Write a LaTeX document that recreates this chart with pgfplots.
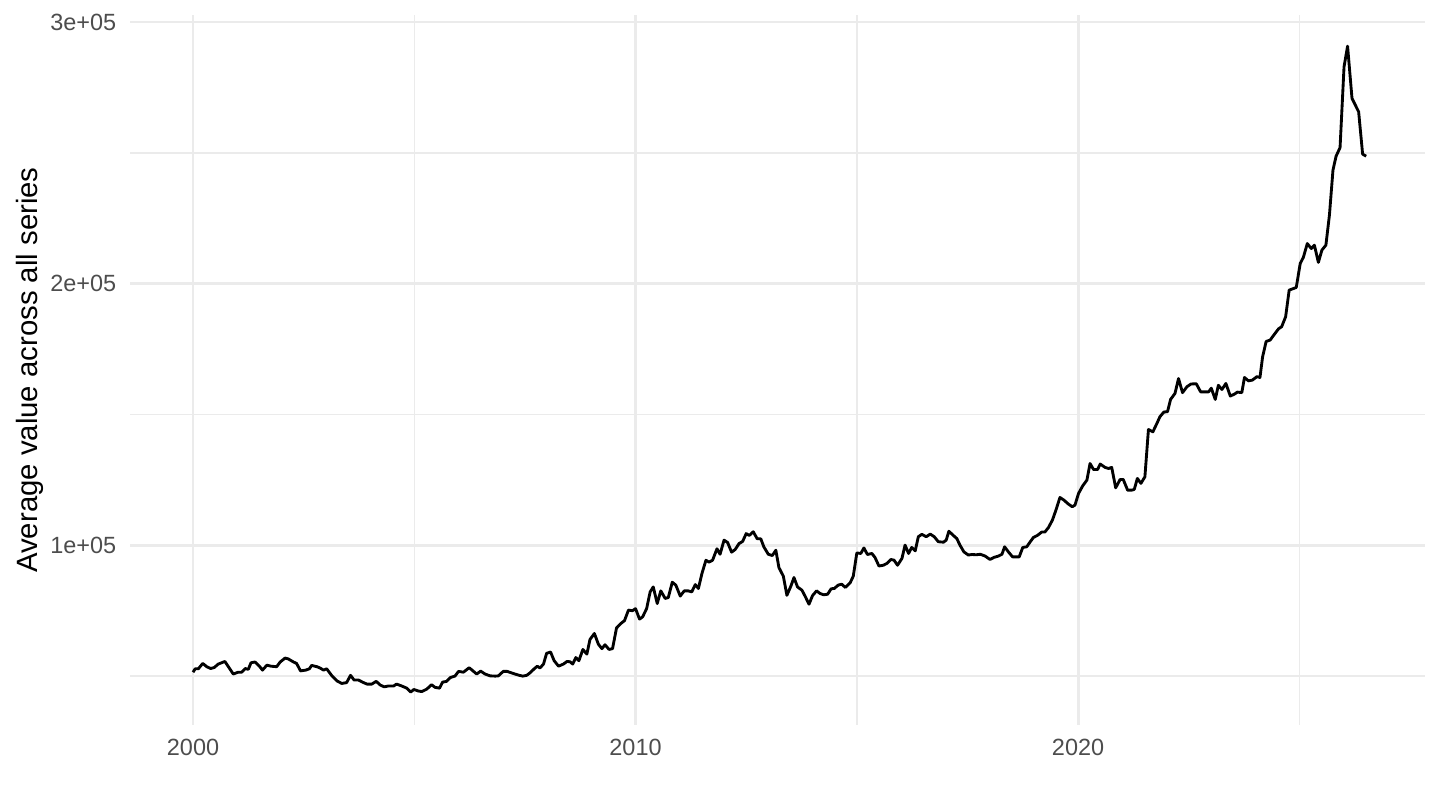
\documentclass[border=0pt]{standalone}
\usepackage{fontspec}
\setmainfont{Liberation Sans}
\usepackage{pgfplots}
\pgfplotsset{compat=1.18}
\definecolor{grid92}{RGB}{235,235,235}
\definecolor{tickgrey}{RGB}{77,77,77}
\begin{document}
\begin{tikzpicture}
\useasboundingbox (0,0) rectangle (540pt,303.75pt);
\begin{axis}[
  at={(48.75pt,31.875pt)}, anchor=south west,
  scale only axis, width=485.625pt, height=266.25pt,
  xmin=1998.576, xmax=2027.84,
  ymin=31200, ymax=302700,
  axis line style={draw=none},
  major tick length=0pt, minor tick length=0pt,
  xtick={2000,2010,2020}, xticklabels={2000,2010,2020},
  minor xtick={2005,2015,2025},
  ytick={100000,200000,300000}, yticklabels={1e+05,2e+05,3e+05},
  minor ytick={50000,150000,250000},
  scaled y ticks=false, scaled x ticks=false,
  grid=both,
  major grid style={draw=grid92, line width=1.07pt},
  minor grid style={draw=grid92, line width=0.53pt},
  /pgf/number format/assume math mode=true,
  tick label style={font=\fontsize{8.8}{10}\selectfont, text=tickgrey},
  xticklabel style={anchor=north, inner sep=0pt, yshift=-4.9pt},
  yticklabel style={anchor=east, inner sep=0pt, xshift=-4.95pt},
  clip=false,
]
\addplot[black, line width=1.07pt, line join=round] table[row sep=\\] {
x y\\
2000.00 51400\\
2000.05 52700\\
2000.12 52700\\
2000.22 54750\\
2000.31 53500\\
2000.40 52800\\
2000.48 53200\\
2000.57 54500\\
2000.72 55500\\
2000.91 50700\\
2001.02 51400\\
2001.10 51400\\
2001.18 52800\\
2001.25 52500\\
2001.31 55000\\
2001.40 55300\\
2001.50 53700\\
2001.57 52200\\
2001.67 54100\\
2001.76 53700\\
2001.89 53500\\
2001.97 55300\\
2002.08 56800\\
2002.15 56500\\
2002.27 55300\\
2002.34 54750\\
2002.43 51900\\
2002.55 52200\\
2002.63 52700\\
2002.68 54000\\
2002.80 53500\\
2002.87 53000\\
2002.95 52200\\
2003.02 52700\\
2003.13 50200\\
2003.25 48100\\
2003.36 47100\\
2003.47 47400\\
2003.56 50200\\
2003.64 48400\\
2003.74 48400\\
2003.83 47600\\
2003.93 46850\\
2004.04 46850\\
2004.14 47900\\
2004.23 46500\\
2004.32 45800\\
2004.41 46100\\
2004.53 46100\\
2004.60 46850\\
2004.72 46100\\
2004.83 45300\\
2004.92 43800\\
2004.99 44800\\
2005.09 44200\\
2005.17 44000\\
2005.28 44900\\
2005.39 46600\\
2005.47 45600\\
2005.57 45300\\
2005.64 47600\\
2005.73 47900\\
2005.82 49400\\
2005.92 49900\\
2006.00 51700\\
2006.11 51400\\
2006.24 53100\\
2006.34 51700\\
2006.41 50700\\
2006.50 51800\\
2006.60 50700\\
2006.71 50000\\
2006.83 49900\\
2006.90 50000\\
2007.01 51700\\
2007.10 51700\\
2007.24 50900\\
2007.35 50300\\
2007.45 49900\\
2007.54 50200\\
2007.62 51200\\
2007.71 52700\\
2007.78 53700\\
2007.84 53000\\
2007.92 54500\\
2007.99 58600\\
2008.08 59100\\
2008.16 55800\\
2008.26 53700\\
2008.37 54500\\
2008.45 55500\\
2008.52 55400\\
2008.58 54500\\
2008.65 57000\\
2008.72 55800\\
2008.81 60100\\
2008.90 58300\\
2008.97 63900\\
2009.07 66200\\
2009.16 62100\\
2009.24 60400\\
2009.31 61900\\
2009.40 60100\\
2009.48 60400\\
2009.57 68300\\
2009.67 70050\\
2009.75 71100\\
2009.84 75150\\
2009.93 74900\\
2010.00 75700\\
2010.09 71700\\
2010.16 72550\\
2010.25 75700\\
2010.33 82100\\
2010.40 84000\\
2010.49 77650\\
2010.57 82500\\
2010.67 79600\\
2010.74 79950\\
2010.83 85800\\
2010.91 84700\\
2011.01 80500\\
2011.10 82500\\
2011.19 82500\\
2011.27 82100\\
2011.35 84900\\
2011.42 83400\\
2011.50 89100\\
2011.59 94200\\
2011.66 93500\\
2011.74 94200\\
2011.84 98600\\
2011.91 96500\\
2012.00 101900\\
2012.08 101000\\
2012.17 97300\\
2012.25 98300\\
2012.34 100600\\
2012.42 101400\\
2012.50 104400\\
2012.57 103700\\
2012.66 105100\\
2012.75 102400\\
2012.83 102400\\
2012.90 99300\\
2013.00 96500\\
2013.09 96000\\
2013.17 98050\\
2013.24 91400\\
2013.34 88100\\
2013.42 80800\\
2013.51 84300\\
2013.58 87600\\
2013.66 84000\\
2013.76 82750\\
2013.83 80500\\
2013.92 77400\\
2014.00 80700\\
2014.09 82500\\
2014.17 81500\\
2014.25 81000\\
2014.34 81200\\
2014.42 83300\\
2014.49 83400\\
2014.58 84700\\
2014.66 85050\\
2014.74 83800\\
2014.85 85600\\
2014.92 88100\\
2015.00 97000\\
2015.09 96800\\
2015.16 98900\\
2015.24 96400\\
2015.34 96800\\
2015.41 95300\\
2015.50 92000\\
2015.60 92300\\
2015.68 93000\\
2015.77 94500\\
2015.84 94250\\
2015.92 92300\\
2016.02 94900\\
2016.09 100000\\
2016.17 96800\\
2016.24 99100\\
2016.32 97800\\
2016.39 103200\\
2016.47 104100\\
2016.57 103200\\
2016.66 104200\\
2016.75 103200\\
2016.84 101300\\
2016.96 101100\\
2017.02 101900\\
2017.08 105300\\
2017.18 103700\\
2017.26 102500\\
2017.33 100000\\
2017.42 97400\\
2017.52 96200\\
2017.60 96400\\
2017.70 96300\\
2017.79 96500\\
2017.90 95800\\
2018.01 94500\\
2018.10 95300\\
2018.20 95800\\
2018.28 96500\\
2018.34 99350\\
2018.43 97300\\
2018.52 95500\\
2018.61 95500\\
2018.67 95500\\
2018.75 99100\\
2018.84 99350\\
2018.92 101300\\
2018.99 102900\\
2019.08 103700\\
2019.18 105000\\
2019.25 105000\\
2019.33 106700\\
2019.42 109550\\
2019.50 113400\\
2019.59 118200\\
2019.68 117200\\
2019.78 115700\\
2019.87 114650\\
2019.93 115300\\
2020.01 119750\\
2020.11 122800\\
2020.20 124850\\
2020.27 131200\\
2020.35 128900\\
2020.44 128900\\
2020.50 131000\\
2020.61 129700\\
2020.69 129300\\
2020.76 129700\\
2020.85 121900\\
2020.95 125100\\
2021.02 125100\\
2021.12 121000\\
2021.21 121000\\
2021.27 121300\\
2021.34 125500\\
2021.42 123600\\
2021.51 126100\\
2021.59 144200\\
2021.69 143300\\
2021.78 146500\\
2021.85 149100\\
2021.94 150900\\
2022.02 151000\\
2022.09 155700\\
2022.19 158000\\
2022.27 163700\\
2022.36 158300\\
2022.46 160550\\
2022.55 161600\\
2022.67 161700\\
2022.77 158600\\
2022.87 158600\\
2022.95 158600\\
2023.01 160000\\
2023.10 155700\\
2023.17 161100\\
2023.25 159500\\
2023.34 161800\\
2023.44 157000\\
2023.53 157700\\
2023.60 158500\\
2023.70 158300\\
2023.76 164100\\
2023.85 162800\\
2023.94 163100\\
2024.04 164400\\
2024.11 164100\\
2024.17 172000\\
2024.25 177900\\
2024.34 178400\\
2024.44 180700\\
2024.53 182700\\
2024.60 183500\\
2024.69 187300\\
2024.77 197500\\
2024.93 198500\\
2025.02 207700\\
2025.09 210000\\
2025.18 215300\\
2025.27 213400\\
2025.34 214700\\
2025.43 208100\\
2025.51 212800\\
2025.60 214700\\
2025.68 226200\\
2025.76 243400\\
2025.83 248700\\
2025.92 252000\\
2026.01 282900\\
2026.09 290800\\
2026.19 270800\\
2026.34 265700\\
2026.43 249500\\
2026.51 248700\\
};
\end{axis}
\node[rotate=90, anchor=center, inner sep=0pt, font=\fontsize{11}{13}\selectfont] at (11.25pt,165pt) {Average value across all series};
\end{tikzpicture}
\end{document}
